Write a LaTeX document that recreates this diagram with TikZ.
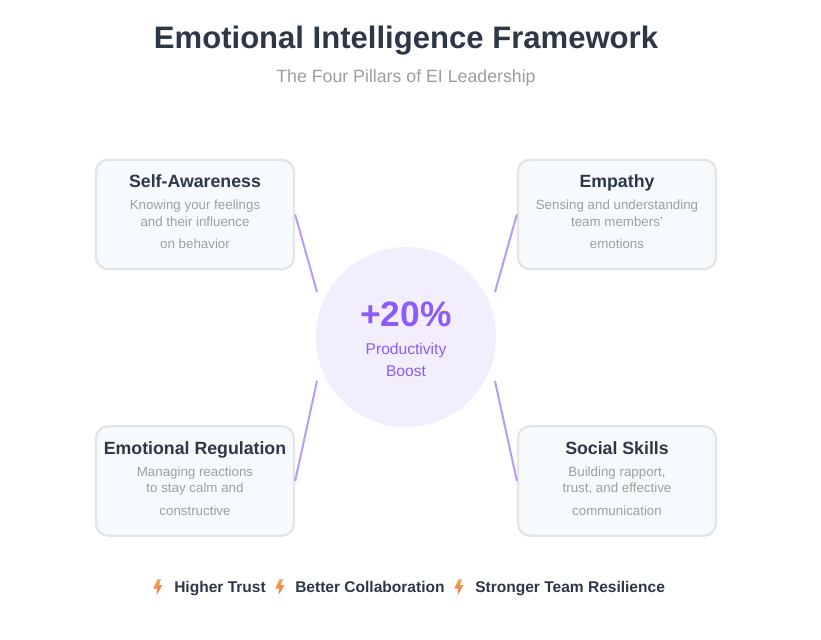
\documentclass[tikz,border=0pt]{standalone}
\usepackage{fontspec}
\setmainfont{Liberation Sans}
\definecolor{inkdark}{HTML}{2D3748}
\definecolor{inkgrey}{HTML}{9E9E9E}
\definecolor{boxfill}{HTML}{F7FAFC}
\definecolor{boxedge}{HTML}{E2E4E6}
\definecolor{purple}{HTML}{8B5CF6}
\definecolor{lilac}{HTML}{F3EEFE}
\definecolor{spoke}{HTML}{B79CF7}
\definecolor{boltup}{HTML}{F8B04A}
\definecolor{boltdown}{HTML}{EE5F4A}
\tikzset{
  pillar/.style={draw=boxedge, line width=1.7pt, fill=boxfill, rounded corners=9pt, minimum width=148.5pt, minimum height=82pt, inner sep=0pt},
  pillarhead/.style={anchor=base, inner sep=0pt, text=inkdark, font=\bfseries\fontsize{13.3}{16}\selectfont},
  pillartext/.style={anchor=base, inner sep=0pt, text=inkgrey, font=\fontsize{10}{12}\selectfont},
  spokeline/.style={draw=spoke, line width=1.5pt},
  perk/.style={anchor=base west, inner sep=0pt, text=inkdark, font=\bfseries\fontsize{11.65}{14}\selectfont},
  bolt/.pic={\path[top color=boltup, bottom color=boltdown] (-0.5,-8) -- (-4.5,1.5) -- (-0.5,1.5) -- (-1.5,8) -- (4.5,-2) -- (1,-2) -- (3,-8) -- cycle;}
}
\begin{document}
\begin{tikzpicture}[x=0.75pt, y=-0.75pt]
\useasboundingbox[fill=white] (0,0) rectangle (821,639);

\node[anchor=base, inner sep=0pt, text=inkdark, font=\bfseries\fontsize{23.3}{28}\selectfont] (title) at (406,48) {Emotional Intelligence Framework};
\node[anchor=base, inner sep=0pt, text=inkgrey, font=\fontsize{13.3}{16}\selectfont] (subtitle) at (406,82) {The Four Pillars of EI Leadership};

\node[pillar] (self) at (195,214.5) {};
\node[pillar] (empathy) at (617,214.5) {};
\node[pillar] (regulation) at (195,481) {};
\node[pillar] (social) at (617,481) {};

\node[pillarhead] (selfhead) at (195,187) {Self-Awareness};
\node[pillartext] (selfa) at (195,209) {Knowing your feelings};
\node[pillartext] (selfb) at (195,226) {and their influence};
\node[pillartext] (selfc) at (195,248) {on behavior};

\node[pillarhead] (empathyhead) at (617,187) {Empathy};
\node[pillartext] (empathya) at (617,209) {Sensing and understanding};
\node[pillartext] (empathyb) at (617,226) {team members'};
\node[pillartext] (empathyc) at (617,248) {emotions};

\node[pillarhead] (regulationhead) at (195,454) {Emotional Regulation};
\node[pillartext] (regulationa) at (195,476) {Managing reactions};
\node[pillartext] (regulationb) at (195,492) {to stay calm and};
\node[pillartext] (regulationc) at (195,515) {constructive};

\node[pillarhead] (socialhead) at (617,454) {Social Skills};
\node[pillartext] (sociala) at (617,476) {Building rapport,};
\node[pillartext] (socialb) at (617,492) {trust, and effective};
\node[pillartext] (socialc) at (617,515) {communication};

\node[circle, fill=lilac, minimum size=135pt, inner sep=0pt] (hub) at (406,337) {};
\node[anchor=base, inner sep=0pt, text=purple, font=\bfseries\fontsize{26.5}{30}\selectfont] (boost) at (406,326) {+20\%};
\node[anchor=base, inner sep=0pt, text=purple, font=\fontsize{11.7}{14}\selectfont] (boosta) at (406,354) {Productivity};
\node[anchor=base, inner sep=0pt, text=purple, font=\fontsize{11.7}{14}\selectfont] (boostb) at (406,376) {Boost};

\coordinate (hubnw) at (317,292);
\coordinate (hubne) at (495,292);
\coordinate (hubsw) at (317,381);
\coordinate (hubse) at (495,381);

\draw[spokeline] (self.east) -- (hubnw);
\draw[spokeline] (empathy.west) -- (hubne);
\draw[spokeline] (regulation.east) -- (hubsw);
\draw[spokeline] (social.west) -- (hubse);

\pic at (158,587) {bolt};
\node[perk] (trust) at (174,592) {Higher Trust};
\pic at (280,587) {bolt};
\node[perk] (collab) at (295,592) {Better Collaboration};
\pic at (459,587) {bolt};
\node[perk] (resilience) at (475,592) {Stronger Team Resilience};
\end{tikzpicture}
\end{document}
